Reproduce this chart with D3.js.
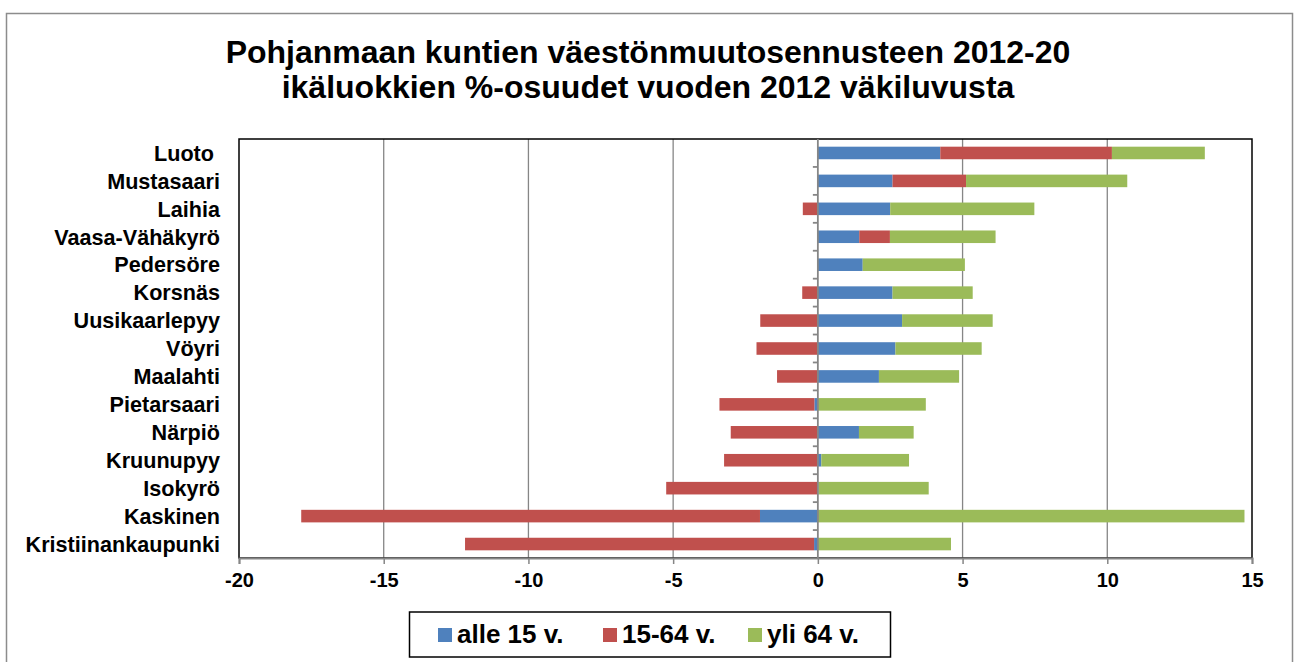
<!DOCTYPE html>
<html>
<head>
<meta charset="utf-8">
<script src="https://cdn.jsdelivr.net/npm/d3@7"></script>
<style>
	body { margin: 0; background: #fff; }
	svg { display: block; font-family: 'Liberation Sans', Arial, sans-serif; font-weight: bold; }
</style>
</head>
<body>
<svg id="chart" width="1294" height="662"></svg>
<script>
const titleLines = ['Pohjanmaan kuntien väestönmuutosennusteen 2012-20', 'ikäluokkien %-osuudet vuoden 2012 väkiluvusta']
const municipalities = ['Luoto ', 'Mustasaari', 'Laihia', 'Vaasa-Vähäkyrö', 'Pedersöre', 'Korsnäs', 'Uusikaarlepyy',
	'Vöyri', 'Maalahti', 'Pietarsaari', 'Närpiö', 'Kruunupyy', 'Isokyrö', 'Kaskinen', 'Kristiinankaupunki']
const seriesNames = ['alle 15 v.', '15-64 v.', 'yli 64 v.']
const under15 = [4.23, 2.58, 2.50, 1.43, 1.55, 2.58, 2.91, 2.68, 2.11, -0.12, 1.42, 0.12, 0.02, -2.00, -0.13]
const age15to64 = [5.93, 2.54, -0.52, 1.06, 0, -0.54, -1.99, -2.12, -1.41, -3.28, -3.01, -3.24, -5.24, -15.85, -12.06]
const over64 = [3.21, 5.57, 4.98, 3.65, 3.53, 2.77, 3.13, 2.98, 2.77, 3.73, 1.89, 3.03, 3.81, 14.74, 4.60]
const xTicks = [-20, -15, -10, -5, 0, 5, 10, 15]
const colors = ['#4f81bd', '#c0504d', '#9bbb59']

const svg = d3.select('#chart')
const plot = { left: 239, right: 1252, top: 139, bottom: 558 }

// outer chart frame
svg.append('rect')
	.attr('x', 6.5).attr('y', 13.5).attr('width', 1286).attr('height', 670)
	.attr('fill', '#fff').attr('stroke', '#8c8c8c').attr('stroke-width', 1.5)

svg.append('g').selectAll('text')
	.data(titleLines)
	.join('text')
	.attr('x', 648).attr('y', (_, i) => 63 + i * 35)
	.attr('text-anchor', 'middle')
	.attr('font-size', 32)
	.text(d => d)

const rows = municipalities.map((name, i) => ({ name, s0: under15[i], s1: age15to64[i], s2: over64[i] }))
const stack = d3.stack().keys(['s0', 's1', 's2']).offset(d3.stackOffsetDiverging)
const layers = stack(rows)

const x = d3.scaleLinear().domain([-20, 15]).range([plot.left, plot.right])
const y = d3.scaleBand().domain(municipalities).range([plot.top, plot.bottom]).paddingInner(0.55).paddingOuter(0.275)

// gridlines
svg.append('g').selectAll('line')
	.data(xTicks.filter(t => t !== 0 && t !== -20 && t !== 15))
	.join('line')
	.attr('x1', d => x(d)).attr('x2', d => x(d))
	.attr('y1', plot.top).attr('y2', plot.bottom)
	.attr('stroke', '#868686').attr('stroke-width', 1.3)

// plot border
svg.append('rect')
	.attr('x', plot.left).attr('y', plot.top)
	.attr('width', plot.right - plot.left).attr('height', plot.bottom - plot.top)
	.attr('fill', 'none').attr('stroke', '#000').attr('stroke-width', 1.5)

// bars
svg.append('g').selectAll('g')
	.data(layers)
	.join('g')
	.attr('fill', (_, i) => colors[i])
	.selectAll('rect')
	.data(d => d)
	.join('rect')
	.attr('x', d => x(Math.min(d[0], d[1])))
	.attr('width', d => Math.abs(x(d[1]) - x(d[0])))
	.attr('y', d => y(d.data.name))
	.attr('height', y.bandwidth())

// vertical axis at zero with category ticks
const zeroAxis = svg.append('g').attr('transform', `translate(${x(0)},0)`)
zeroAxis.append('line')
	.attr('y1', plot.top).attr('y2', plot.bottom)
	.attr('stroke', '#868686').attr('stroke-width', 1.8)
zeroAxis.selectAll('line.tick')
	.data(d3.range(1, municipalities.length))
	.join('line')
	.attr('class', 'tick')
	.attr('x1', -5).attr('x2', 0)
	.attr('y1', i => plot.top + i * y.step()).attr('y2', i => plot.top + i * y.step())
	.attr('stroke', '#868686').attr('stroke-width', 1.8)

// category labels
svg.append('g').selectAll('text')
	.data(municipalities)
	.join('text')
	.attr('x', 220)
	.attr('y', d => y(d) + y.bandwidth() / 2)
	.attr('dy', '0.36em')
	.attr('text-anchor', 'end')
	.attr('font-size', 21.6)
	.style('white-space', 'pre')
	.text(d => d)

// bottom axis
const xAxis = d3.axisBottom(x).tickValues(xTicks).tickSize(6).tickPadding(9).tickFormat(d3.format('d'))
const gx = svg.append('g').attr('transform', `translate(0,${plot.bottom})`).call(xAxis)
gx.select('.domain').attr('stroke', '#868686').attr('stroke-width', 2)
gx.selectAll('.tick line').attr('stroke', '#868686').attr('stroke-width', 1.5)
gx.selectAll('.tick text')
	.attr('font-size', 20).attr('font-family', null).attr('fill', '#000')
	.text(d => d < 0 ? '-' + Math.abs(d) : d)
gx.attr('font-family', null).attr('font-size', 20)

// legend
const legend = svg.append('g')
legend.append('rect')
	.attr('x', 409.5).attr('y', 612).attr('width', 481).attr('height', 45)
	.attr('fill', '#fff').attr('stroke', '#000').attr('stroke-width', 1.5)
const legendX = [438, 603, 748]
const items = legend.selectAll('g.item')
	.data(seriesNames)
	.join('g')
	.attr('class', 'item')
	.attr('transform', (_, i) => `translate(${legendX[i]},628)`)
items.append('rect').attr('width', 14).attr('height', 14).attr('fill', (_, i) => colors[i])
items.append('text')
	.attr('x', 19).attr('y', 14.8)
	.attr('font-size', 26)
	.text(d => d)
</script>
</body>
</html>
